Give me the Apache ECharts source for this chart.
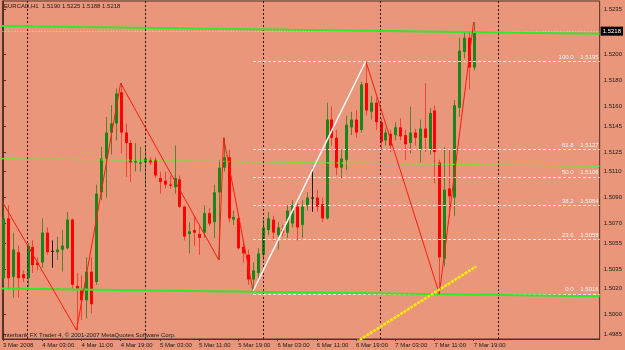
<!DOCTYPE html>
<html>
<head>
<meta charset="utf-8">
<script src="https://cdn.jsdelivr.net/npm/echarts@6/dist/echarts.min.js"></script>
<style>
  html, body { margin: 0; padding: 0; background: #E9967A; }
  #chart { width: 625px; height: 350px; }
</style>
</head>
<body>
<div id="chart"></div>
<script>
// EURCAD H1, bars from 3 Mar 19:00 to 7 Mar 19:00 (index = hours)
const opens = [1.5028,1.5074,1.5029,1.5048,1.5031,1.5028,1.5052,1.5040,1.5040,1.5063,
  1.5049,1.5048,1.5050,1.5051,1.5073,1.5022,1.5019,1.5011,1.5033,1.5025,
  1.5094,1.5120,1.5140,1.5147,1.5171,1.5140,1.5132,1.5117,1.5116,1.5117,
  1.5119,1.5119,1.5105,1.5103,1.5100,1.5098,1.5104,1.5083,1.5062,1.5065,
  1.5062,1.5063,1.5078,1.5071,1.5094,1.5113,1.5121,1.5073,1.5074,1.5052,
  1.5046,1.5027,1.5032,1.5046,1.5065,1.5073,1.5061,1.5065,1.5063,1.5070,
  1.5083,1.5069,1.5084,1.5090,1.5090,1.5085,1.5074,1.5150,1.5136,1.5113,
  1.5119,1.5144,1.5150,1.5142,1.5178,1.5156,1.5163,1.5148,1.5134,1.5139,
  1.5138,1.5144,1.5138,1.5132,1.5140,1.5127,1.5143,1.5127,1.5157,1.5117,
  1.5043,1.5097,1.5090,1.5159,1.5202,1.5213,1.5190];
const closes = [1.5074,1.5028,1.5050,1.5028,1.5028,1.5053,1.5038,1.5038,1.5063,1.5048,
  1.5049,1.5050,1.5053,1.5073,1.5023,1.5020,1.5011,1.5033,1.5008,1.5093,
  1.5120,1.5140,1.5147,1.5170,1.5140,1.5132,1.5117,1.5118,1.5117,1.5120,
  1.5117,1.5107,1.5102,1.5100,1.5099,1.5105,1.5083,1.5060,1.5064,1.5063,
  1.5059,1.5078,1.5070,1.5094,1.5113,1.5121,1.5074,1.5075,1.5051,1.5047,
  1.5027,1.5034,1.5047,1.5067,1.5074,1.5063,1.5067,1.5063,1.5080,1.5084,
  1.5067,1.5083,1.5090,1.5090,1.5083,1.5074,1.5150,1.5136,1.5113,1.5120,
  1.5146,1.5150,1.5140,1.5177,1.5157,1.5163,1.5148,1.5133,1.5140,1.5130,
  1.5144,1.5137,1.5131,1.5140,1.5136,1.5143,1.5136,1.5155,1.5125,1.5044,
  1.5096,1.5091,1.5161,1.5203,1.5213,1.5190,1.5218];
const lows = [1.5023,1.5019,1.5013,1.5013,1.5025,1.5021,1.5032,1.5034,1.5036,1.5046,
  1.5036,1.5042,1.5033,1.5050,1.5020,1.4988,1.4996,1.4997,1.5001,1.5023,
  1.5088,1.5090,1.5123,1.5134,1.5124,1.5106,1.5102,1.5110,1.5110,1.5098,
  1.5115,1.5105,1.5093,1.5097,1.5097,1.5093,1.5082,1.5057,1.5047,1.5053,
  1.5046,1.5059,1.5068,1.5059,1.5042,1.5110,1.5071,1.5069,1.5050,1.5040,
  1.5023,1.5018,1.5028,1.5042,1.5061,1.5057,1.5050,1.5060,1.5059,1.5067,
  1.5057,1.5059,1.5080,1.5079,1.5079,1.5071,1.5073,1.5130,1.5107,1.5105,
  1.5111,1.5138,1.5136,1.5140,1.5153,1.5150,1.5142,1.5127,1.5130,1.5125,
  1.5134,1.5134,1.5119,1.5124,1.5130,1.5117,1.5125,1.5123,1.5101,1.5016,
  1.5037,1.5075,1.5076,1.5152,1.5197,1.5173,1.5188];
const highs = [1.5086,1.5084,1.5063,1.5053,1.5034,1.5055,1.5057,1.5044,1.5074,1.5067,
  1.5057,1.5060,1.5065,1.5079,1.5074,1.5032,1.5030,1.5044,1.5044,1.5100,
  1.5129,1.5152,1.5161,1.5174,1.5178,1.5147,1.5134,1.5132,1.5129,1.5130,
  1.5121,1.5121,1.5110,1.5110,1.5107,1.5130,1.5107,1.5084,1.5071,1.5076,
  1.5068,1.5084,1.5082,1.5100,1.5119,1.5136,1.5127,1.5080,1.5076,1.5055,
  1.5050,1.5040,1.5051,1.5073,1.5079,1.5076,1.5071,1.5069,1.5084,1.5088,
  1.5088,1.5088,1.5094,1.5113,1.5096,1.5090,1.5163,1.5160,1.5142,1.5127,
  1.5153,1.5156,1.5157,1.5179,1.5195,1.5168,1.5167,1.5151,1.5143,1.5142,
  1.5148,1.5151,1.5142,1.5160,1.5143,1.5150,1.5178,1.5159,1.5161,1.5119,
  1.5129,1.5127,1.5165,1.5213,1.5217,1.5217,1.5225];

const timeTicks = [0, 8, 16, 24, 32, 40, 48, 56, 64, 72, 80, 88, 96];
const timeLabels = ['3 Mar 2008', '4 Mar 03:00', '4 Mar 11:00', '4 Mar 19:00', '5 Mar 03:00',
  '5 Mar 11:00', '5 Mar 19:00', '6 Mar 03:00', '6 Mar 11:00', '6 Mar 19:00',
  '7 Mar 03:00', '7 Mar 11:00', '7 Mar 19:00'];
const daySeparators = [5, 29, 53, 77, 101];
const priceTicks = [1.5235, 1.5200, 1.5180, 1.5160, 1.5145, 1.5125, 1.5110, 1.5090,
  1.5070, 1.5055, 1.5035, 1.5020, 1.5000, 1.4985];
const bidPrice = 1.5218;

// fibonacci retracement
const fibNames = ['100.0', '61.8', '50.0', '38.2', '23.6', '0.0'];
const fibLevels = [1.5195, 1.5127, 1.5106, 1.5084, 1.5058, 1.5016];
const fibStart = 51;

// drawn objects [bar, price]
const zigzag = [[0, 1.5086], [15, 1.4988], [24, 1.5178], [44, 1.5042], [45, 1.5136],
  [51, 1.5018], [74, 1.5195], [89, 1.5016], [96, 1.5225]];
const whiteTrend = [[51, 1.5018], [74, 1.5195]];
const greenUpper = [[-0.3, 1.5222], [121.7, 1.5216]];
const greenLower = [[-0.3, 1.5020], [121.7, 1.5014]];
const greenDashed = [[-0.3, 1.5120], [121.7, 1.5114]];
const yellowTrend = [[70, 1.4974], [96.5, 1.5037]];

const X_MIN = -0.12, X_MAX = 121.7;
const Y_MIN = 1.49812, Y_MAX = 1.52412;
const FONT = "'Liberation Sans', Arial, sans-serif";
const FS = 6;

const candles = opens.map((o, i) => [i, o, closes[i], lows[i], highs[i]]);

const chart = echarts.init(document.getElementById('chart'));

function lineSeries(data, color, width, type, z) {
  return {
    type: 'line', data: data, showSymbol: false, silent: true, z: z || 5,
    lineStyle: { color: color, width: width, type: type || 'solid' },
    animation: false
  };
}

const option = {
  backgroundColor: '#E9967A',
  animation: false,
  grid: {
    left: 1, top: 1, right: 24, bottom: 11,
    show: true, backgroundColor: '#E9967A', borderColor: '#4e3229', borderWidth: 1
  },
  xAxis: {
    type: 'value', min: X_MIN, max: X_MAX,
    splitLine: { show: false },
    axisLine: { lineStyle: { color: '#4e3229' } },
    axisTick: { customValues: timeTicks, length: 2, lineStyle: { color: '#4e3229' } },
    axisLabel: {
      customValues: timeTicks,
      formatter: v => timeLabels[timeTicks.indexOf(v)],
      align: 'left', margin: 3, fontSize: FS, color: '#1a1a1a', fontFamily: FONT
    }
  },
  yAxis: {
    type: 'value', position: 'right', min: Y_MIN, max: Y_MAX,
    splitLine: { show: false },
    axisLine: { show: true, lineStyle: { color: '#4e3229' } },
    axisTick: { show: true, customValues: priceTicks, length: 3, lineStyle: { color: '#4e3229' } },
    axisLabel: {
      customValues: priceTicks,
      formatter: v => v.toFixed(4),
      margin: 4, fontSize: FS, color: '#1a1a1a', fontFamily: FONT
    }
  },
  graphic: [
    { type: 'text', left: 4, top: 3, z: 100,
      style: { text: 'EURCAD,H1  1.5190 1.5225 1.5188 1.5218', fill: '#1a1a1a', font: FS + 'px ' + FONT } },
    { type: 'text', left: 3, top: 332, z: 100,
      style: { text: 'Interbank FX Trader 4, \u00a9 2001-2007 MetaQuotes Software Corp.', fill: '#1a1a1a', font: FS + 'px ' + FONT } }
  ],
  series: [
    {
      // day separators
      type: 'line', data: [], silent: true, z: 1,
      markLine: {
        symbol: 'none', silent: true, animation: false,
        label: { show: false },
        lineStyle: { color: '#2a1a14', width: 1, type: [2, 2] },
        data: daySeparators.map(v => ({ xAxis: v }))
      }
    },
    {
      // fibonacci levels and bid line
      type: 'line', data: [], silent: true, z: 2,
      markLine: {
        symbol: 'none', silent: true, animation: false,
        data: fibLevels.map((lv, k) => [
          { coord: [fibStart, lv], lineStyle: { color: '#f6e6de', width: 1, type: [3, 2] },
            label: { show: true, position: 'insideEndTop', distance: [1, 1],
              formatter: fibNames[k] + '    ' + lv.toFixed(4),
              color: '#fbf1ec', fontSize: FS, fontFamily: FONT } },
          { coord: [X_MAX, lv] }
        ]).concat([[
          { coord: [X_MIN, bidPrice],
            lineStyle: { color: '#e6d2c8', width: 1, type: [1, 2] },
            label: { show: true, position: 'end', distance: 1, formatter: bidPrice.toFixed(4),
              backgroundColor: '#000', color: '#fff', padding: [2, 2, 1, 2], fontSize: FS, fontFamily: FONT } },
          { coord: [X_MAX, bidPrice] }
        ]])
      }
    },
    {
      type: 'custom', z: 3, clip: true, silent: true,
      data: candles,
      encode: { x: 0, y: [1, 2, 3, 4] },
      renderItem: function (params, api) {
        const i = api.value(0), o = api.value(1), c = api.value(2);
        const po = api.coord([i, o]), pc = api.coord([i, c]);
        const pl = api.coord([i, api.value(3)]), ph = api.coord([i, api.value(4)]);
        const body = c > o ? '#1a861a' : (c < o ? '#ff0000' : '#2a1a14');
        const wick = c > o ? 'rgba(40,120,20,0.75)' : (c < o ? 'rgba(255,20,10,0.65)' : '#2a1a14');
        const x = Math.round(po[0]) + 0.5;
        const top = Math.min(po[1], pc[1]);
        const h = Math.max(Math.abs(po[1] - pc[1]), 1);
        return {
          type: 'group',
          children: [
            { type: 'line', shape: { x1: x, y1: ph[1], x2: x, y2: pl[1] }, style: { stroke: wick, lineWidth: 1 } },
            { type: 'rect', shape: { x: x - 1.5, y: top, width: 3, height: h }, style: { fill: body } }
          ]
        };
      }
    },
    lineSeries(greenDashed, '#5cf22e', 1.3, [3, 2], 4),
    lineSeries(greenUpper, '#33e62e', 2, 'solid', 5),
    lineSeries(greenLower, '#33e62e', 2, 'solid', 5),
    lineSeries(zigzag, '#ff1a0a', 1, 'solid', 6),
    lineSeries(whiteTrend, '#ffffff', 1.5, 'solid', 7),
    lineSeries(yellowTrend, '#ffee00', 2.5, [3, 1], 8)
  ]
};

chart.setOption(option);
</script>
</body>
</html>
